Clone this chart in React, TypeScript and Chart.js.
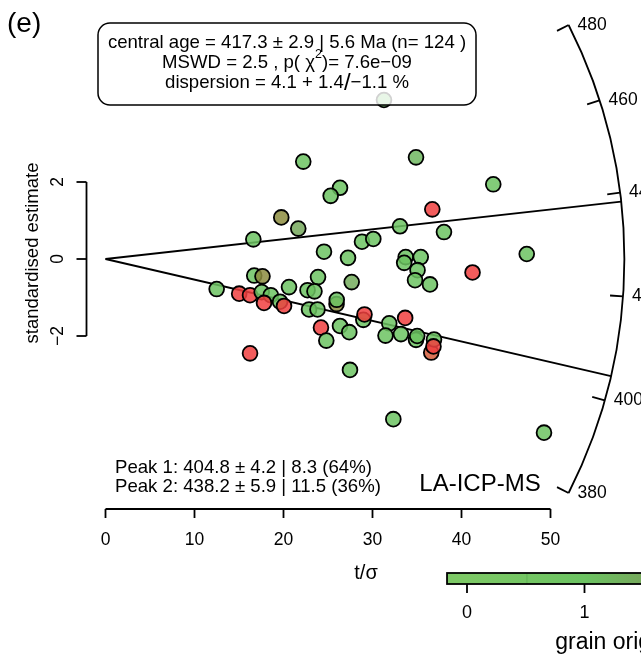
import { useEffect, useRef } from "react";
import { Chart, registerables } from "chart.js";

Chart.register(...registerables);

// Single-grain results: t/σ (precision) and standardised estimate
const T_SIGMA = [
  22.22, 34.89, 43.57, 26.35, 25.3, 36.72, 19.75, 21.66, 16.61, 33.09,
  38.03, 28.82, 30.09, 24.55, 27.25, 33.73, 35.42, 33.56, 35.06, 34.78,
  36.46, 41.24, 47.33, 27.66, 23.88, 20.62, 22.7, 23.48, 12.49, 16.71,
  17.64, 15.02, 16.24, 17.55, 18.57, 17.81, 19.61, 20.06, 22.87, 23.82,
  25.96, 25.98, 28.97, 29.1, 24.21, 26.35, 27.39, 24.81, 31.88, 33.67,
  31.46, 33.2, 34.89, 35.02, 36.6, 36.91, 36.85, 16.24, 27.47, 32.34,
  49.27, 31.29,
];
const STD_EST = [
  2.53, 2.64, 1.94, 1.85, 1.64, 1.29, 1.08, 0.79, 0.51, 0.85,
  0.7, 0.45, 0.52, 0.19, 0.03, 0.05, 0.05, -0.1, -0.29, -0.55,
  -0.66, -0.35, 0.13, -0.6, -0.47, -0.73, -0.81, -0.84, -0.78, -0.43,
  -0.45, -0.9, -0.94, -0.86, -0.94, -1.14, -1.11, -1.22, -1.31, -1.31,
  -1.17, -1.06, -1.58, -1.44, -1.78, -1.74, -1.9, -2.12, -1.67, -1.53,
  -1.99, -1.95, -2.1, -2.0, -2.43, -2.09, -2.27, -2.45, -2.88, -4.16,
  -4.51, 4.13,
];
// Colour variable of each grain
const GRAIN_ORIGIN = [
  1, 1.2, 1, 1, 1, 3, 2, 1.5, 1, 1,
  1, 1, 1, 1, 1, 1, 1, 1, 1, 1,
  1, 3, 1, 1.4, 1, 1, 1, 1, 1, 1,
  2, 3, 3, 1, 1, 3, 1, 3, 1, 1,
  2, 1, 1, 3, 3, 1, 1, 1, 1, 3,
  1, 1, 1, 1, 2.6, 1, 3, 3, 1, 1,
  1, 1,
];

const PEAK_AGES = [404.8, 438.2];
const PEAK_LABELS = [
  "Peak 1: 404.8 ± 4.2 | 8.3 (64%)",
  "Peak 2: 438.2 ± 5.9 | 11.5 (36%)",
];
const ARC_AGES = [380, 400, 420, 440, 460, 480];
const X_TICKS = [0, 10, 20, 30, 40, 50];
const Y_TICKS = [-2, 0, 2];
const ORIGIN_TICKS = [0, 1];

const AGE_MIN = 380;
const AGE_MAX = 480;
const Z0 = Math.log(Math.sqrt(AGE_MIN * AGE_MAX));
const ARC_RADIUS = 58.3; // in t/σ units

const FONT = '"Liberation Sans", Arial, Helvetica, sans-serif';

// palette for the colour variable
const PALETTE: [number, number[]][] = [
  [0, [125, 201, 102]],
  [1, [108, 195, 98]],
  [1.5, [118, 168, 92]],
  [2, [140, 140, 62]],
  [2.6, [212, 92, 58]],
  [3, [240, 64, 64]],
];

function colourAt(v: number, alpha = 1): string {
  let c = PALETTE[0][1];
  if (v >= PALETTE[PALETTE.length - 1][0]) c = PALETTE[PALETTE.length - 1][1];
  else {
    for (let i = 0; i < PALETTE.length - 1; i++) {
      const [v0, c0] = PALETTE[i];
      const [v1, c1] = PALETTE[i + 1];
      if (v >= v0 && v <= v1) {
        const f = (v - v0) / (v1 - v0);
        c = c0.map((k, j) => Math.round(k + (c1[j] - k) * f));
        break;
      }
    }
  }
  return `rgba(${c[0]},${c[1]},${c[2]},${alpha})`;
}

// colour bar geometry (pixels)
const CB_ZERO = 467;
const CB_UNIT = 117.5;
const CB_MIN = -0.17;
const CB_MAX = 2.64;
const CB_TOP = 573;
const CB_H = 11;

const X_AXIS_Y = 509;
const Y_AXIS_X = 86.5;

const radialPlugin = {
  id: "radialFrame",
  beforeDatasetsDraw(chart: any) {
    const { ctx } = chart;
    const x = chart.scales.x;
    const y = chart.scales.y;
    const ox = x.getPixelForValue(0);
    const oy = y.getPixelForValue(0);
    const ux = x.getPixelForValue(1) - ox;
    const uy = y.getPixelForValue(1) - oy;
    const R = x.getPixelForValue(ARC_RADIUS) - ox;
    const dirFor = (age: number) => {
      const s = Math.log(age) - Z0;
      const dx = ux;
      const dy = uy * s;
      const n = Math.hypot(dx, dy);
      return [dx / n, dy / n];
    };

    ctx.save();
    ctx.strokeStyle = "#000";
    ctx.fillStyle = "#000";
    ctx.lineWidth = 1.8;

    // lines for the mixture peaks
    for (const age of PEAK_AGES) {
      const [cx, cy] = dirFor(age);
      ctx.beginPath();
      ctx.moveTo(ox, oy);
      ctx.lineTo(ox + R * cx, oy + R * cy);
      ctx.stroke();
    }

    // age arc
    const [a1x, a1y] = dirFor(AGE_MAX);
    const [a2x, a2y] = dirFor(AGE_MIN);
    ctx.beginPath();
    ctx.arc(ox, oy, R, Math.atan2(a1y, a1x), Math.atan2(a2y, a2x));
    ctx.stroke();

    ctx.font = `17.5px ${FONT}`;
    ctx.textAlign = "left";
    ctx.textBaseline = "middle";
    for (const age of ARC_AGES) {
      const [cx, cy] = dirFor(age);
      ctx.beginPath();
      ctx.moveTo(ox + R * cx, oy + R * cy);
      ctx.lineTo(ox + (R - 13) * cx, oy + (R - 13) * cy);
      ctx.stroke();
      ctx.fillText(String(age), ox + R * cx + 9, oy + R * cy);
    }

    // x axis
    const x0 = x.getPixelForValue(X_TICKS[0]);
    const x1 = x.getPixelForValue(X_TICKS[X_TICKS.length - 1]);
    ctx.beginPath();
    ctx.moveTo(x0, X_AXIS_Y);
    ctx.lineTo(x1, X_AXIS_Y);
    ctx.stroke();
    ctx.textAlign = "center";
    for (const v of X_TICKS) {
      const px = x.getPixelForValue(v);
      ctx.beginPath();
      ctx.moveTo(px, X_AXIS_Y);
      ctx.lineTo(px, X_AXIS_Y + 9);
      ctx.stroke();
      ctx.fillText(String(v), px, X_AXIS_Y + 31);
    }
    ctx.font = `20px ${FONT}`;
    ctx.fillText("t/σ", 366, 573);

    // y axis
    const y0 = y.getPixelForValue(Y_TICKS[0]);
    const y1 = y.getPixelForValue(Y_TICKS[Y_TICKS.length - 1]);
    ctx.beginPath();
    ctx.moveTo(Y_AXIS_X, y0);
    ctx.lineTo(Y_AXIS_X, y1);
    ctx.stroke();
    ctx.font = `17.5px ${FONT}`;
    for (const v of Y_TICKS) {
      const py = y.getPixelForValue(v);
      ctx.beginPath();
      ctx.moveTo(Y_AXIS_X, py);
      ctx.lineTo(Y_AXIS_X - 10, py);
      ctx.stroke();
      ctx.save();
      ctx.translate(58, py);
      ctx.rotate(-Math.PI / 2);
      ctx.fillText(v < 0 ? `−${Math.abs(v)}` : String(v), 0, 0);
      ctx.restore();
    }
    ctx.save();
    ctx.font = `18.5px ${FONT}`;
    ctx.translate(33, 253);
    ctx.rotate(-Math.PI / 2);
    ctx.fillText("standardised estimate", 0, 0);
    ctx.restore();

    ctx.restore();
  },
  afterDatasetsDraw(chart: any) {
    const { ctx } = chart;
    ctx.save();
    ctx.fillStyle = "#000";
    ctx.strokeStyle = "#000";

    // panel letter
    ctx.font = `28px ${FONT}`;
    ctx.textAlign = "left";
    ctx.textBaseline = "middle";
    ctx.fillText("(e)", 7, 24);

    // summary box
    ctx.beginPath();
    ctx.roundRect(98, 23, 378, 82, 12);
    ctx.fillStyle = "rgba(255,255,255,0.82)";
    ctx.fill();
    ctx.lineWidth = 1.5;
    ctx.stroke();
    ctx.fillStyle = "#000";

    const cx = 287;
    const drawParts = (parts: [string, number, number][], yc: number) => {
      let total = 0;
      for (const [t, size] of parts) {
        ctx.font = `${size}px ${FONT}`;
        total += ctx.measureText(t).width;
      }
      let px = cx - total / 2;
      ctx.textAlign = "left";
      for (const [t, size, dy] of parts) {
        ctx.font = `${size}px ${FONT}`;
        ctx.fillText(t, px, yc + dy);
        px += ctx.measureText(t).width;
      }
    };
    drawParts([["central age = 417.3 ± 2.9 | 5.6 Ma (n= 124 )", 18.6, 0]], 43);
    drawParts(
      [
        ["MSWD = 2.5 , p( χ", 18.6, 0],
        ["2", 12.5, -8],
        [")= 7.6e−09", 18.6, 0],
      ],
      63
    );
    drawParts(
      [
        ["dispersion = 4.1 + 1.4", 18.6, 0],
        ["/", 24, 0],
        ["−1.1 %", 18.6, 0],
      ],
      83
    );

    // peak summary
    ctx.font = `18.6px ${FONT}`;
    ctx.textAlign = "left";
    PEAK_LABELS.forEach((t, i) => ctx.fillText(t, 115, 468 + i * 19));

    // method label
    ctx.font = `24px ${FONT}`;
    ctx.textAlign = "center";
    ctx.fillText("LA-ICP-MS", 480, 484);

    // colour bar
    const cbx = (v: number) => CB_ZERO + v * CB_UNIT;
    const gx0 = cbx(CB_MIN);
    const gx1 = cbx(CB_MAX);
    const grad = ctx.createLinearGradient(gx0, 0, gx1, 0);
    grad.addColorStop(0, colourAt(CB_MIN));
    for (const [v] of PALETTE) {
      if (v > CB_MIN && v < CB_MAX) grad.addColorStop((v - CB_MIN) / (CB_MAX - CB_MIN), colourAt(v));
    }
    grad.addColorStop(1, colourAt(CB_MAX));
    ctx.fillStyle = grad;
    ctx.fillRect(gx0, CB_TOP, gx1 - gx0, CB_H);
    ctx.strokeStyle = "rgba(60,140,60,0.35)";
    ctx.lineWidth = 1;
    ctx.beginPath();
    ctx.moveTo(cbx(0.51), CB_TOP);
    ctx.lineTo(cbx(0.51), CB_TOP + CB_H);
    ctx.stroke();
    ctx.strokeStyle = "#000";
    ctx.lineWidth = 1.8;
    ctx.strokeRect(gx0, CB_TOP, gx1 - gx0, CB_H);
    ctx.fillStyle = "#000";
    ctx.font = `18px ${FONT}`;
    ctx.textAlign = "center";
    for (const v of ORIGIN_TICKS) {
      const px = cbx(v);
      ctx.beginPath();
      ctx.moveTo(px, CB_TOP + CB_H);
      ctx.lineTo(px, CB_TOP + CB_H + 9);
      ctx.stroke();
      ctx.fillText(String(v), px, 613);
    }
    ctx.font = `23px ${FONT}`;
    ctx.fillText("grain origin", cbx((CB_MIN + CB_MAX) / 2), 643);

    ctx.restore();
  },
};

export default function App() {
  const canvasRef = useRef<HTMLCanvasElement | null>(null);

  useEffect(() => {
    const canvas = canvasRef.current;
    if (!canvas) return;
    const points = T_SIGMA.map((t, i) => ({ x: t, y: STD_EST[i] }));
    const chart = new Chart(canvas, {
      type: "scatter",
      data: {
        datasets: [
          {
            data: points,
            backgroundColor: GRAIN_ORIGIN.map((v) => colourAt(v, 0.85)),
            borderColor: "#000",
            borderWidth: 1.8,
            pointRadius: 7.4,
            pointHoverRadius: 7.4,
          },
        ],
      },
      options: {
        responsive: false,
        animation: false,
        events: [],
        layout: { padding: 0, autoPadding: false },
        plugins: {
          legend: { display: false },
          tooltip: { enabled: false },
          title: { display: false },
        },
        scales: {
          x: { type: "linear", display: false, min: -105.5 / 8.9, max: (641 - 105.5) / 8.9 },
          y: { type: "linear", display: false, min: -(660 - 259) / 38.5, max: 259 / 38.5 },
        },
      },
      plugins: [radialPlugin],
    });
    return () => chart.destroy();
  }, []);

  return (
    <div style={{ position: "fixed", left: 0, top: 0, width: 641, height: 660, background: "#fff" }}>
      <canvas ref={canvasRef} width={641} height={660} style={{ display: "block" }} />
    </div>
  );
}
